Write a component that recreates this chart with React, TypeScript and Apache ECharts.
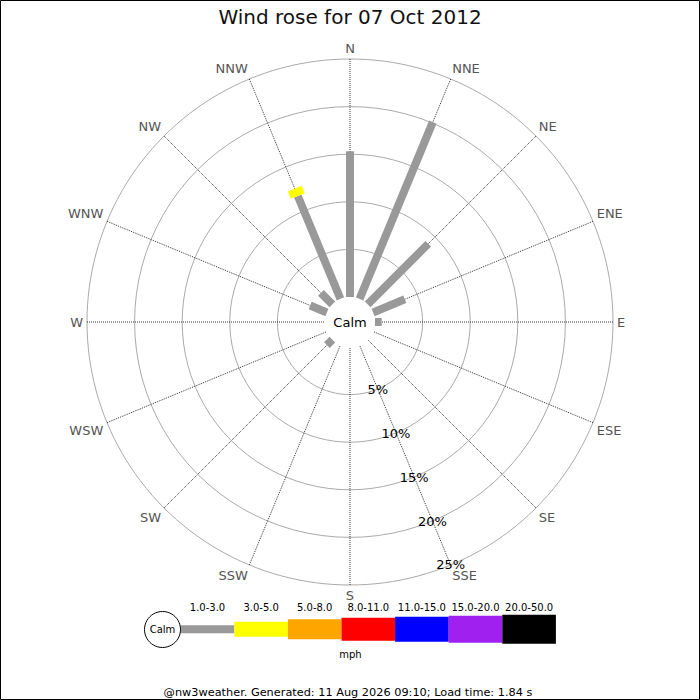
import React, { useEffect, useRef } from 'react';
import * as echarts from 'echarts';

const DIRECTIONS = ['N', 'NNE', 'NE', 'ENE', 'E', 'ESE', 'SE', 'SSE', 'S', 'SSW', 'SW', 'WSW', 'W', 'WNW', 'NW', 'NNW'];
const SPEED_CLASSES = ['1.0-3.0', '3.0-5.0', '5.0-8.0', '8.0-11.0', '11.0-15.0', '15.0-20.0', '20.0-50.0'];
const CLASS_COLORS = ['#999999', '#ffff00', '#ffa500', '#ff0000', '#0000ff', '#a020f0', '#000000'];

// frequency (%) per direction, one array per speed class
const FREQ_1_3 = [15.3, 20.1, 9.0, 3.6, 0.7, 0, 0, 0, 0, 0, 0.8, 0, 0, 1.9, 1.7, 11.7];
const FREQ_3_5 = [0, 0, 0, 0, 0, 0, 0, 0, 0, 0, 0, 0, 0, 0, 0, 0.85];
const FREQ_5_8 = [0, 0, 0, 0, 0, 0, 0, 0, 0, 0, 0, 0, 0, 0, 0, 0];
const FREQ_8_11 = [0, 0, 0, 0, 0, 0, 0, 0, 0, 0, 0, 0, 0, 0, 0, 0];
const FREQ_11_15 = [0, 0, 0, 0, 0, 0, 0, 0, 0, 0, 0, 0, 0, 0, 0, 0];
const FREQ_15_20 = [0, 0, 0, 0, 0, 0, 0, 0, 0, 0, 0, 0, 0, 0, 0, 0];
const FREQ_20_50 = [0, 0, 0, 0, 0, 0, 0, 0, 0, 0, 0, 0, 0, 0, 0, 0];

const RADIUS_MAX = 25;
const RADIUS_STEP = 5;

const TITLE = 'Wind rose for 07 Oct 2012';
const CALM_LABEL = 'Calm';
const UNIT_LABEL = 'mph';
const FOOTER = '@nw3weather. Generated: 11 Aug 2026 09:10; Load time: 1.84 s';

// styles
const BAR_WIDTHS = [8, 15, 20, 23, 25, 27, 29];
const FONT = "'DejaVu Sans', Verdana, sans-serif";
const CX = 350;
const CY = 322;
const R0 = 25;
const R1 = 263;

const FREQS = [FREQ_1_3, FREQ_3_5, FREQ_5_8, FREQ_8_11, FREQ_11_15, FREQ_15_20, FREQ_20_50];
const STEP_ANGLE = 360 / DIRECTIONS.length;
const ANGLE_MIN = 157.5; // SSE, where the % labels sit

function buildBars() {
  const out: any[] = [];
  DIRECTIONS.forEach((_, i) => {
    let base = 0;
    let angle = i * STEP_ANGLE;
    if (angle < ANGLE_MIN) angle += 360;
    FREQS.forEach((arr, k) => {
      const v = arr[i];
      if (v > 0) out.push({ value: [base + v, angle, base, k] });
      base += v;
    });
  });
  return out;
}

function txt(text: string, x: number, y: number, size: number, fill = '#000') {
  return {
    type: 'text',
    x,
    y,
    z: 10,
    style: {
      text,
      fill,
      fontSize: size,
      fontFamily: FONT,
      align: 'center',
      verticalAlign: 'middle',
      textAlign: 'center',
      textVerticalAlign: 'middle',
    },
  };
}

function buildLegend() {
  const items: any[] = [];
  const lx0 = 180.7;
  const lw = 53.6;
  const ly = 629.3;
  items.push({
    type: 'circle',
    z: 10,
    shape: { cx: 162.5, cy: 629.5, r: 18 },
    style: { fill: '#fff', stroke: '#000', lineWidth: 1 },
  });
  items.push(txt(CALM_LABEL, 162.5, 629.5, 10));
  SPEED_CLASSES.forEach((lab, k) => {
    const h = BAR_WIDTHS[k];
    items.push({
      type: 'rect',
      z: 9,
      shape: { x: lx0 + k * lw, y: ly - h / 2, width: lw, height: h },
      style: { fill: CLASS_COLORS[k] },
    });
    items.push(txt(lab, lx0 + k * lw + lw / 2, 607.8, 10));
  });
  items.push(txt(UNIT_LABEL, 350.5, 654.3, 10));
  return items;
}

export default function App() {
  const ref = useRef<HTMLDivElement>(null);
  useEffect(() => {
    if (!ref.current) return;
    const chart = echarts.init(ref.current, undefined, { renderer: 'svg' });
    const option: any = {
      animation: false,
      backgroundColor: '#fff',
      textStyle: { fontFamily: FONT },
      polar: { center: [CX, CY], radius: [R0, R1] },
      angleAxis: {
        type: 'value',
        min: ANGLE_MIN,
        max: ANGLE_MIN + 360,
        interval: STEP_ANGLE,
        startAngle: 90 - ANGLE_MIN,
        clockwise: true,
        axisLine: { show: false },
        axisTick: { show: false },
        axisLabel: {
          formatter: (v: number) => DIRECTIONS[Math.round(v / STEP_ANGLE) % DIRECTIONS.length],
          color: '#555',
          fontSize: 13,
          fontFamily: FONT,
          margin: 4,
        },
        splitLine: { show: true, lineStyle: { color: '#333', type: 'dotted', width: 1 } },
      },
      radiusAxis: {
        type: 'value',
        min: 0,
        max: RADIUS_MAX,
        interval: RADIUS_STEP,
        axisLine: { show: false },
        axisTick: { show: false },
        axisLabel: {
          formatter: (v: number) => (v === 0 ? '' : v + '%'),
          color: '#000',
          fontSize: 13,
          fontFamily: FONT,
          margin: 0,
          align: 'center',
          verticalAlign: 'middle',
        },
        splitLine: {
          show: true,
          lineStyle: { color: ['rgba(0,0,0,0)', '#aaa', '#aaa', '#aaa', '#aaa', '#aaa'], width: 1 },
        },
      },
      series: [
        {
          type: 'custom',
          coordinateSystem: 'polar',
          data: buildBars(),
          z: 5,
          renderItem: (params: any, api: any) => {
            const rEnd = api.value(0);
            const ang = api.value(1);
            const rStart = api.value(2);
            const k = api.value(3);
            const p0 = api.coord([rStart, ang]);
            const p1 = api.coord([rEnd, ang]);
            return {
              type: 'line',
              shape: { x1: p0[0], y1: p0[1], x2: p1[0], y2: p1[1] },
              style: { stroke: CLASS_COLORS[k], lineWidth: BAR_WIDTHS[k], lineCap: 'butt' },
            };
          },
        },
      ],
      graphic: [
        {
          type: 'rect',
          z: 20,
          shape: { x: 0.5, y: 0.5, width: 699, height: 699 },
          style: { fill: 'none', stroke: '#000', lineWidth: 1 },
        },
        txt(TITLE, 350, 17, 20, '#111'),
        txt(CALM_LABEL, CX, CY, 13),
        ...buildLegend(),
        txt(FOOTER, 348, 692.5, 11.3),
      ],
    };
    chart.setOption(option);
    return () => chart.dispose();
  }, []);
  return (
    <div
      ref={ref}
      style={{ position: 'fixed', left: 0, top: 0, width: 700, height: 700, background: '#fff' }}
    />
  );
}
